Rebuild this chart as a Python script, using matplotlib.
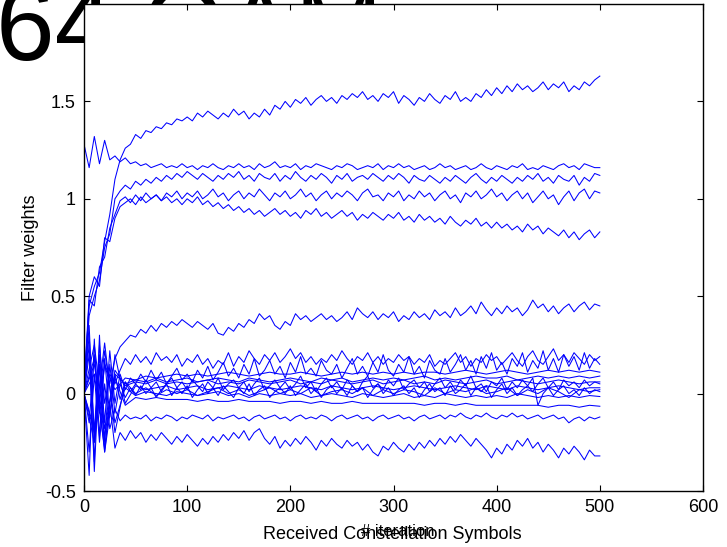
import numpy as np
import matplotlib
matplotlib.use("Agg")
import matplotlib.pyplot as plt

plt.rcParams['font.family'] = ['Liberation Sans', 'DejaVu Sans']

# iteration grids
iters5 = np.arange(0, 501, 5)
iters10 = np.arange(0, 501, 10)

# filter-weight traces (every 5 iterations)
w_top = [0.05, 0.45, 0.55, 0.62, 0.78, 0.92, 1.10, 1.20, 1.26, 1.28,
         1.33, 1.31, 1.35, 1.34, 1.37, 1.36, 1.39, 1.38, 1.41, 1.40,
         1.42, 1.40, 1.44, 1.42, 1.45, 1.43, 1.41, 1.44, 1.42, 1.46,
         1.43, 1.45, 1.41, 1.44, 1.42, 1.46, 1.43, 1.48, 1.46, 1.50,
         1.47, 1.51, 1.49, 1.52, 1.48, 1.51, 1.53, 1.50, 1.52, 1.49,
         1.53, 1.51, 1.54, 1.52, 1.55, 1.51, 1.53, 1.50, 1.54, 1.52,
         1.55, 1.49, 1.53, 1.51, 1.48, 1.52, 1.50, 1.54, 1.51, 1.49,
         1.53, 1.51, 1.55, 1.50, 1.52, 1.50, 1.54, 1.52, 1.56, 1.53,
         1.57, 1.54, 1.58, 1.55, 1.59, 1.56, 1.58, 1.55, 1.57, 1.60,
         1.56, 1.59, 1.57, 1.60, 1.55, 1.58, 1.56, 1.60, 1.58, 1.61,
         1.63]
w_b = [1.28, 1.16, 1.32, 1.18, 1.30, 1.20, 1.22, 1.19, 1.21, 1.18,
       1.19, 1.17, 1.18, 1.16, 1.17, 1.18, 1.16, 1.17, 1.16, 1.18,
       1.16, 1.17, 1.15, 1.17, 1.16, 1.18, 1.16, 1.15, 1.17, 1.16,
       1.18, 1.16, 1.17, 1.15, 1.18, 1.16, 1.17, 1.19, 1.16, 1.17,
       1.16, 1.18, 1.15, 1.17, 1.16, 1.18, 1.17, 1.16, 1.15, 1.17,
       1.16, 1.18, 1.17, 1.15, 1.16, 1.17, 1.16, 1.18, 1.15, 1.17,
       1.16, 1.18, 1.16, 1.17, 1.15, 1.16, 1.17, 1.15, 1.16, 1.18,
       1.16, 1.17, 1.15, 1.16, 1.17, 1.15, 1.16, 1.18, 1.16, 1.15,
       1.17, 1.16, 1.15, 1.17, 1.16, 1.18, 1.15, 1.16, 1.15, 1.17,
       1.16, 1.15, 1.17, 1.18, 1.16, 1.17, 1.15, 1.18, 1.17, 1.16,
       1.16]
w_c = [0.02, 0.40, 0.50, 0.58, 0.75, 0.82, 1.00, 1.04, 1.07, 1.05,
       1.09, 1.07, 1.10, 1.08, 1.11, 1.09, 1.12, 1.10, 1.13, 1.11,
       1.14, 1.12, 1.10, 1.13, 1.11, 1.09, 1.12, 1.10, 1.13, 1.11,
       1.14, 1.10, 1.12, 1.09, 1.13, 1.11, 1.10, 1.13, 1.09, 1.12,
       1.10, 1.14, 1.11, 1.09, 1.12, 1.10, 1.13, 1.11, 1.08, 1.12,
       1.10, 1.13, 1.09, 1.11, 1.12, 1.10, 1.13, 1.11, 1.09, 1.12,
       1.10, 1.13, 1.11, 1.08, 1.12, 1.10, 1.09, 1.12, 1.10, 1.08,
       1.11, 1.09, 1.12, 1.10, 1.08, 1.11, 1.13, 1.10, 1.08, 1.11,
       1.09, 1.12, 1.10, 1.08, 1.11, 1.09, 1.12, 1.10, 1.13, 1.09,
       1.11, 1.08, 1.12, 1.10, 1.09, 1.12, 1.07, 1.11, 1.09, 1.13,
       1.12]
w_d = [-0.02, 0.48, 0.45, 0.65, 0.70, 0.85, 0.92, 0.99, 1.01, 0.98,
       1.02, 0.99, 1.03, 1.00, 1.02, 0.99, 1.03, 1.01, 1.04, 1.00,
       1.03, 1.01, 1.04, 1.00, 1.02, 1.05, 1.01, 1.03, 0.99, 1.02,
       1.04, 1.00, 1.03, 1.01, 1.05, 1.02, 0.99, 1.03, 1.01, 1.04,
       1.00, 1.02, 1.05, 1.01, 1.03, 0.99, 1.02, 1.04, 1.00, 1.03,
       1.01, 1.04, 1.02, 0.99, 1.03, 1.05, 1.01, 1.02, 0.99, 1.03,
       1.01, 1.04, 0.99, 1.02, 1.00, 1.04, 1.01, 1.03, 0.99, 1.02,
       1.04, 1.00, 1.02, 0.98, 1.03, 1.01, 1.04, 1.00, 1.02, 1.05,
       1.01, 1.03, 0.99, 1.02, 1.04, 1.00, 1.03, 0.98, 1.01, 1.04,
       1.00, 1.02, 0.97, 1.01, 1.04, 0.99, 1.03, 1.05, 1.00, 1.04,
       1.03]
w_e = [0.03, 0.50, 0.60, 0.55, 0.80, 0.78, 0.90, 0.96, 0.98, 1.00,
       0.97, 1.01, 0.98, 1.00, 1.02, 0.99, 1.01, 0.98, 1.00, 0.97,
       1.00, 0.98, 1.01, 0.97, 0.99, 0.96, 0.98, 0.95, 0.97, 0.94,
       0.96, 0.93, 0.95, 0.92, 0.94, 0.91, 0.93, 0.95, 0.92, 0.94,
       0.91, 0.93, 0.90, 0.94, 0.92, 0.95, 0.91, 0.93, 0.90, 0.92,
       0.94, 0.91, 0.93, 0.89, 0.92, 0.90, 0.93, 0.91, 0.89, 0.92,
       0.90, 0.93, 0.89, 0.91, 0.88, 0.92, 0.89, 0.91, 0.88, 0.90,
       0.87, 0.91, 0.88, 0.86, 0.89, 0.87, 0.90, 0.86, 0.88, 0.85,
       0.88, 0.85, 0.87, 0.84, 0.86, 0.83, 0.87, 0.84, 0.86, 0.82,
       0.85, 0.83, 0.81, 0.84, 0.80, 0.83, 0.79, 0.82, 0.84, 0.80,
       0.83]
w_f = [0.00, -0.15, 0.20, -0.10, 0.15, 0.05, 0.18, 0.24, 0.27, 0.30,
       0.29, 0.33, 0.31, 0.35, 0.32, 0.36, 0.34, 0.37, 0.35, 0.38,
       0.36, 0.34, 0.37, 0.35, 0.33, 0.36, 0.31, 0.30, 0.34, 0.32,
       0.36, 0.34, 0.38, 0.36, 0.41, 0.38, 0.40, 0.35, 0.33, 0.37,
       0.35, 0.41, 0.38, 0.40, 0.37, 0.39, 0.41, 0.38, 0.40, 0.37,
       0.39, 0.42, 0.38, 0.44, 0.41, 0.39, 0.42, 0.38, 0.41, 0.39,
       0.42, 0.37, 0.40, 0.38, 0.42, 0.39, 0.41, 0.38, 0.43, 0.40,
       0.42, 0.39, 0.44, 0.40, 0.42, 0.45, 0.41, 0.47, 0.43, 0.40,
       0.44, 0.41, 0.45, 0.42, 0.44, 0.40, 0.43, 0.48, 0.44, 0.46,
       0.42, 0.45, 0.41, 0.44, 0.46, 0.42, 0.45, 0.47, 0.43, 0.46,
       0.45]
w_g = [0.00, 0.30, -0.20, 0.25, -0.05, 0.10, 0.05, 0.12, 0.18, 0.15,
       0.20, 0.16, 0.19, 0.15, 0.21, 0.17, 0.19, 0.16, 0.20, 0.14,
       0.18, 0.16, 0.20, 0.15, 0.18, 0.13, 0.17, 0.15, 0.21, 0.14,
       0.19, 0.16, 0.22, 0.18, 0.15, 0.20, 0.17, 0.21, 0.16, 0.19,
       0.23, 0.18, 0.21, 0.16, 0.19, 0.15, 0.18, 0.16, 0.20, 0.17,
       0.22, 0.18, 0.15, 0.19, 0.17, 0.21, 0.16, 0.19, 0.15, 0.18,
       0.16, 0.20, 0.17, 0.19, 0.15, 0.18, 0.16, 0.20, 0.14, 0.17,
       0.15, 0.18, 0.21, 0.16, 0.19, 0.14, 0.18, 0.16, 0.20, 0.17,
       0.19, 0.15, 0.18, 0.21, 0.17, 0.14, 0.19, 0.22, 0.17, 0.15,
       0.19, 0.23, 0.17, 0.20, 0.16, 0.21, 0.18, 0.15, 0.20, 0.17,
       0.19]
w_h1 = [0.00, 0.35, -0.25, 0.20, -0.15, 0.22, -0.05, 0.10, 0.02, 0.08,
        0.05, 0.10, 0.06, 0.12, 0.07, 0.11, 0.05, 0.09, 0.13, 0.07,
        0.10, 0.06, 0.12, 0.08, 0.14, 0.07, 0.11, 0.16, 0.09, 0.13,
        0.08, 0.15, 0.10, 0.18, 0.09, 0.12, 0.17, 0.10, 0.14, 0.08,
        0.16, 0.11, 0.19, 0.10, 0.13, 0.09, 0.17, 0.12, 0.10, 0.15,
        0.08, 0.13, 0.18, 0.10, 0.14, 0.09, 0.16, 0.11, 0.20, 0.12,
        0.09, 0.15, 0.11, 0.19, 0.10, 0.14, 0.08, 0.17, 0.12, 0.10,
        0.18, 0.11, 0.15, 0.20, 0.12, 0.17, 0.10, 0.19, 0.13, 0.21,
        0.12, 0.16, 0.10, 0.18, 0.14, 0.21, 0.11, 0.17, 0.13, 0.22,
        0.12, 0.18, 0.11, 0.20, 0.14, 0.19, 0.12, 0.21, 0.13, 0.18,
        0.15]
w_h4 = [0.00, -0.42, 0.28, -0.22, 0.18, -0.12, 0.10, -0.03, 0.06, 0.01,
        0.05, 0.02, 0.07, 0.03, 0.06, 0.01, 0.05, 0.08, 0.03, 0.06,
        0.02, 0.07, 0.04, 0.01, 0.06, 0.03, 0.08, 0.02, 0.05, 0.07,
        0.03, 0.06, 0.01, 0.05, 0.08, 0.02, 0.04, 0.07, 0.03, 0.06,
        0.02, 0.05, 0.09, 0.03, 0.06, 0.01, 0.05, 0.08, 0.03, 0.06,
        0.02, 0.07, 0.04, 0.01, 0.06, 0.09, 0.03, 0.05, 0.02, 0.07,
        0.04, 0.08, 0.02, 0.05, 0.07, 0.03, 0.06, 0.01, 0.05, 0.08,
        0.03, 0.06, 0.02, 0.07, 0.04, 0.09, 0.03, 0.05, 0.01, 0.06,
        0.04, 0.08, 0.02, 0.06, 0.03, 0.07, 0.04, 0.01, 0.05, 0.08,
        0.03, 0.06, 0.02, 0.07, 0.04, 0.06, 0.03, 0.07, 0.04, 0.06,
        0.05]
w_h6 = [0.00, 0.20, -0.35, 0.30, -0.25, 0.15, -0.10, 0.05, -0.02, 0.03,
        -0.01, 0.04, 0.00, 0.03, -0.02, 0.02, 0.05, -0.01, 0.03, 0.00,
        0.04, -0.02, 0.02, 0.05, 0.00, 0.03, -0.01, 0.04, 0.01, -0.02,
        0.03, 0.00, 0.05, -0.01, 0.02, 0.04, -0.02, 0.01, 0.03, 0.00,
        0.04, -0.01, 0.02, 0.05, 0.00, 0.03, -0.02, 0.02, 0.04, 0.00,
        0.03, -0.01, 0.04, 0.01, 0.03, -0.02, 0.02, 0.05, 0.00, 0.03,
        -0.01, 0.02, 0.04, 0.00, 0.03, -0.02, 0.02, 0.05, 0.01, 0.03,
        -0.01, 0.04, 0.00, 0.02, 0.05, -0.01, 0.03, 0.01, 0.04, -0.02,
        0.02, 0.05, 0.00, 0.03, -0.01, 0.02, 0.04, 0.08, -0.06, 0.00,
        0.03, -0.01, 0.02, 0.04, 0.00, 0.02, -0.01, 0.03, 0.00, 0.02,
        0.01]
w_i = [0.00, -0.30, 0.10, -0.25, 0.05, -0.18, -0.08, -0.14, -0.11, -0.13,
       -0.12, -0.13, -0.11, -0.14, -0.12, -0.13, -0.11, -0.12, -0.14, -0.12,
       -0.13, -0.11, -0.12, -0.13, -0.11, -0.14, -0.12, -0.13, -0.12, -0.11,
       -0.13, -0.12, -0.14, -0.12, -0.11, -0.13, -0.12, -0.11, -0.13, -0.12,
       -0.14, -0.12, -0.11, -0.13, -0.12, -0.13, -0.11, -0.12, -0.14, -0.12,
       -0.11, -0.13, -0.12, -0.11, -0.13, -0.12, -0.14, -0.12, -0.11, -0.13,
       -0.12, -0.11, -0.13, -0.12, -0.14, -0.12, -0.11, -0.13, -0.12, -0.11,
       -0.13, -0.11, -0.12, -0.10, -0.12, -0.13, -0.11, -0.12, -0.10, -0.12,
       -0.13, -0.11, -0.12, -0.10, -0.12, -0.11, -0.13, -0.12, -0.11, -0.13,
       -0.12, -0.11, -0.13, -0.12, -0.15, -0.13, -0.12, -0.14, -0.12, -0.13,
       -0.12]
w_j = [0.00, 0.25, -0.40, 0.15, -0.30, -0.05, -0.28, -0.20, -0.24, -0.19,
       -0.23, -0.20, -0.25, -0.21, -0.24, -0.20, -0.23, -0.26, -0.22, -0.25,
       -0.21, -0.24, -0.27, -0.23, -0.26, -0.22, -0.25, -0.21, -0.24, -0.20,
       -0.23, -0.19, -0.24, -0.20, -0.18, -0.23, -0.26, -0.22, -0.28, -0.24,
       -0.27, -0.23, -0.26, -0.22, -0.25, -0.29, -0.24, -0.27, -0.23, -0.26,
       -0.28, -0.24, -0.27, -0.25, -0.29, -0.26, -0.30, -0.32, -0.27, -0.29,
       -0.25, -0.28, -0.30, -0.26, -0.29, -0.25, -0.28, -0.24, -0.27, -0.23,
       -0.26, -0.22, -0.25, -0.21, -0.24, -0.27, -0.23, -0.26, -0.29, -0.33,
       -0.28, -0.31, -0.26, -0.29, -0.24, -0.27, -0.23, -0.28, -0.25, -0.30,
       -0.26, -0.29, -0.33, -0.28, -0.31, -0.27, -0.30, -0.34, -0.29, -0.32,
       -0.32]

# smoother traces near zero (every 10 iterations)
w_h2 = [0.00, -0.20, 0.15, 0.02, 0.08, 0.07, 0.09, 0.08, 0.09, 0.10,
        0.09, 0.10, 0.09, 0.10, 0.11, 0.10, 0.09, 0.10, 0.11, 0.10,
        0.10, 0.11, 0.10, 0.09, 0.10, 0.11, 0.10, 0.11, 0.10, 0.11,
        0.10, 0.11, 0.10, 0.11, 0.11, 0.10, 0.11, 0.12, 0.11, 0.10,
        0.11, 0.12, 0.11, 0.10, 0.11, 0.12, 0.11, 0.12, 0.11, 0.12,
        0.11]
w_h3 = [0.00, 0.25, -0.18, 0.10, 0.05, 0.07, 0.06, 0.08, 0.06, 0.07,
        0.08, 0.06, 0.07, 0.08, 0.07, 0.06, 0.08, 0.07, 0.06, 0.07,
        0.08, 0.07, 0.06, 0.08, 0.07, 0.08, 0.06, 0.07, 0.08, 0.07,
        0.08, 0.07, 0.08, 0.09, 0.07, 0.08, 0.07, 0.08, 0.09, 0.08,
        0.08, 0.09, 0.07, 0.08, 0.09, 0.08, 0.09, 0.08, 0.09, 0.08,
        0.09]
w_h5 = [0.00, 0.10, -0.28, 0.20, -0.05, 0.04, 0.02, 0.03, 0.04, 0.02,
        0.03, 0.04, 0.02, 0.03, 0.04, 0.03, 0.02, 0.04, 0.03, 0.02,
        0.03, 0.04, 0.03, 0.02, 0.04, 0.03, 0.02, 0.03, 0.04, 0.03,
        0.02, 0.03, 0.04, 0.03, 0.02, 0.03, 0.04, 0.03, 0.02, 0.04,
        0.03, 0.02, 0.04, 0.03, 0.02, 0.03, 0.04, 0.03, 0.02, 0.03,
        0.03]
w_h7 = [0.00, -0.25, 0.22, -0.15, 0.03, -0.01, 0.01, 0.00, -0.01, 0.01,
        0.00, -0.01, 0.00, 0.01, -0.01, 0.00, -0.02, 0.00, -0.01, 0.00,
        -0.01, 0.00, -0.02, -0.01, 0.00, -0.01, -0.02, 0.00, -0.01, -0.02,
        -0.01, 0.00, -0.02, -0.01, -0.02, 0.00, -0.01, -0.02, -0.01, -0.02,
        -0.01, -0.02, 0.00, -0.01, -0.02, -0.01, -0.02, -0.01, -0.02, -0.01,
        -0.015]
w_h8 = [0.00, 0.18, -0.30, 0.08, -0.06, -0.02, -0.03, -0.02, -0.03, -0.03,
        -0.03, -0.04, -0.03, -0.04, -0.04, -0.03, -0.04, -0.04, -0.04, -0.05,
        -0.04, -0.04, -0.05, -0.04, -0.05, -0.05, -0.04, -0.05, -0.05, -0.05,
        -0.05, -0.05, -0.05, -0.06, -0.05, -0.05, -0.06, -0.05, -0.06, -0.06,
        -0.06, -0.06, -0.06, -0.06, -0.06, -0.07, -0.06, -0.06, -0.07, -0.06,
        -0.065]
w_h9 = [0.00, 0.15, -0.22, 0.12, 0.04, 0.06, 0.05, 0.07, 0.05, 0.06,
        0.05, 0.06, 0.07, 0.05, 0.06, 0.05, 0.07, 0.06, 0.05, 0.06,
        0.07, 0.05, 0.06, 0.05, 0.07, 0.06, 0.05, 0.06, 0.07, 0.05,
        0.06, 0.07, 0.05, 0.06, 0.05, 0.07, 0.06, 0.05, 0.06, 0.07,
        0.05, 0.06, 0.07, 0.06, 0.05, 0.06, 0.07, 0.06, 0.05, 0.06,
        0.06]
w_h10 = [0.00, -0.18, 0.26, -0.20, 0.06, 0.00, 0.03, -0.01, 0.02, 0.00,
         0.02, -0.01, 0.01, 0.03, 0.00, 0.02, -0.01, 0.01, 0.03, 0.00,
         0.02, 0.00, 0.03, -0.01, 0.01, 0.02, 0.00, 0.03, -0.01, 0.02,
         0.00, 0.02, 0.01, -0.01, 0.03, 0.00, 0.02, 0.01, 0.03, 0.00,
         0.01, 0.03, -0.01, 0.02, 0.00, 0.03, 0.01, -0.02, 0.02, 0.01,
         0.02]

x_ticks = [0, 100, 200, 300, 400, 500, 600]
y_ticks = [-0.5, 0, 0.5, 1, 1.5]
y_tick_labels = ['-0.5', '0', '0.5', '1', '1.5']

fig = plt.figure(figsize=(7.27, 5.47), dpi=100)
ax = fig.add_axes([84/727, 1 - 491/547, (703 - 84)/727, (491 - 4)/547])

fine = [w_top, w_b, w_c, w_d, w_e, w_f, w_g, w_h1, w_h4, w_h6, w_i, w_j]
coarse = [w_h2, w_h3, w_h5, w_h7, w_h8, w_h9, w_h10]
for w in fine:
    ax.plot(iters5, w, color='#0000ff', lw=0.75)
for w in coarse:
    ax.plot(iters10, w, color='#0000ff', lw=0.75)

ax.set_xlim(0, 600)
ax.set_ylim(-0.5, 2.0)
ax.set_xticks(x_ticks)
ax.set_xticklabels([str(t) for t in x_ticks])
ax.set_yticks(y_ticks)
ax.set_yticklabels(y_tick_labels)
ax.tick_params(direction='in', top=True, right=True, length=4, width=0.8,
               labelsize=13, pad=6)
for s in ax.spines.values():
    s.set_linewidth(1.0)
ax.set_ylabel('Filter weights', fontsize=13, labelpad=4)

# overlapping labels from the original figure
fig.text(392/727, 1 - 539/547, 'Received Constellation Symbols', fontsize=13,
         ha='center', va='baseline')
fig.text(398/727, 1 - 536/547, '# iteration', fontsize=12,
         ha='center', va='baseline')
# big title partly hidden behind the axes
fig.text(-4/727, 1 - 60/547, '64 QAM', fontsize=76, ha='left',
         va='baseline', zorder=-1)

fig.savefig('out.png', dpi=100)
